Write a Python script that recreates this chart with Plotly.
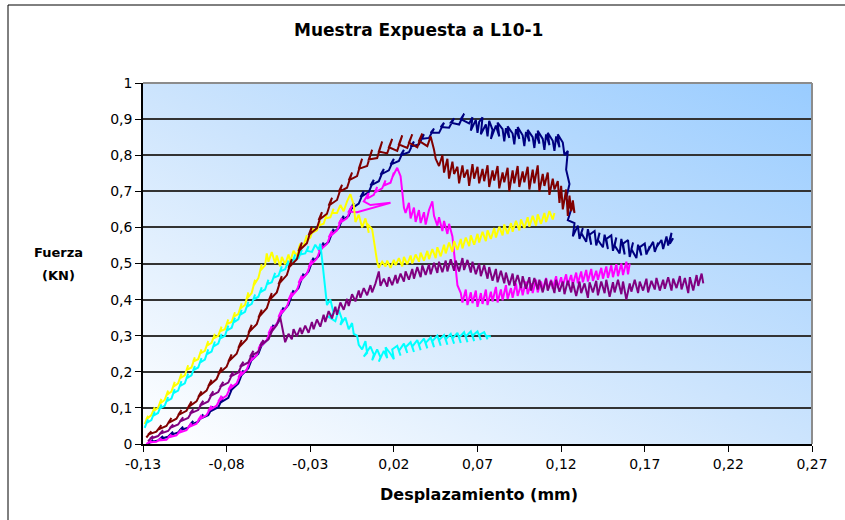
import base64
import plotly.graph_objects as go

# ---------------- data ----------------
X_TICKS = [-0.13, -0.08, -0.03, 0.02, 0.07, 0.12, 0.17, 0.22, 0.27]
X_TICK_LABELS = ["-0,13", "-0,08", "-0,03", "0,02", "0,07", "0,12", "0,17", "0,22", "0,27"]
Y_TICKS = [0, 0.1, 0.2, 0.3, 0.4, 0.5, 0.6, 0.7, 0.8, 0.9, 1.0]
Y_TICK_LABELS = ["0", "0,1", "0,2", "0,3", "0,4", "0,5", "0,6", "0,7", "0,8", "0,9", "1"]

# (desplazamiento mm, fuerza KN) pairs
NAVY_XY = [
    (-0.127, 0.000), (-0.124, 0.012), (-0.126, 0.004), (-0.121, 0.010), (-0.118, 0.022), (-0.120, 0.014),
    (-0.115, 0.020), (-0.112, 0.034), (-0.114, 0.024), (-0.109, 0.032), (-0.106, 0.048), (-0.108, 0.038),
    (-0.103, 0.045), (-0.100, 0.064), (-0.102, 0.052), (-0.097, 0.062), (-0.094, 0.082), (-0.096, 0.070),
    (-0.091, 0.080), (-0.088, 0.104), (-0.090, 0.090), (-0.085, 0.102), (-0.082, 0.130), (-0.084, 0.114),
    (-0.079, 0.128), (-0.076, 0.162), (-0.078, 0.146), (-0.073, 0.168), (-0.070, 0.204), (-0.072, 0.186),
    (-0.067, 0.210), (-0.064, 0.246), (-0.066, 0.228), (-0.061, 0.250), (-0.058, 0.286), (-0.060, 0.268),
    (-0.055, 0.292), (-0.052, 0.330), (-0.054, 0.312), (-0.049, 0.338), (-0.046, 0.378), (-0.048, 0.358),
    (-0.043, 0.386), (-0.040, 0.426), (-0.042, 0.406), (-0.037, 0.432), (-0.034, 0.472), (-0.036, 0.452),
    (-0.031, 0.478), (-0.028, 0.516), (-0.030, 0.498), (-0.025, 0.520), (-0.022, 0.558), (-0.024, 0.540),
    (-0.019, 0.560), (-0.016, 0.596), (-0.018, 0.578), (-0.013, 0.598), (-0.010, 0.632), (-0.012, 0.616),
    (-0.007, 0.632), (-0.004, 0.668), (-0.006, 0.650), (-0.001, 0.666), (0.002, 0.700), (0.000, 0.684),
    (0.005, 0.698), (0.008, 0.732), (0.006, 0.716), (0.011, 0.728), (0.014, 0.762), (0.012, 0.746),
    (0.017, 0.758), (0.020, 0.790), (0.018, 0.774), (0.023, 0.784), (0.026, 0.815), (0.024, 0.800),
    (0.029, 0.808), (0.032, 0.838), (0.030, 0.824), (0.035, 0.830), (0.038, 0.858), (0.036, 0.845),
    (0.041, 0.848), (0.044, 0.874), (0.042, 0.862), (0.047, 0.862), (0.050, 0.890), (0.048, 0.878),
    (0.053, 0.876), (0.056, 0.902), (0.054, 0.890), (0.059, 0.885), (0.062, 0.915), (0.060, 0.900),
    (0.065, 0.888), (0.067, 0.905), (0.066, 0.868), (0.069, 0.898), (0.070, 0.862), (0.071, 0.892),
    (0.073, 0.905), (0.072, 0.858), (0.075, 0.885), (0.076, 0.852), (0.077, 0.895), (0.079, 0.870),
    (0.078, 0.845), (0.081, 0.882), (0.083, 0.852), (0.082, 0.890), (0.085, 0.872), (0.086, 0.838),
    (0.087, 0.875), (0.089, 0.848), (0.088, 0.880), (0.091, 0.860), (0.092, 0.830), (0.093, 0.872),
    (0.095, 0.845), (0.094, 0.878), (0.097, 0.855), (0.098, 0.825), (0.099, 0.865), (0.101, 0.838),
    (0.100, 0.870), (0.103, 0.850), (0.104, 0.820), (0.105, 0.860), (0.107, 0.832), (0.106, 0.868),
    (0.109, 0.845), (0.110, 0.815), (0.111, 0.858), (0.113, 0.828), (0.112, 0.862), (0.115, 0.840),
    (0.116, 0.812), (0.117, 0.852), (0.119, 0.822), (0.118, 0.858), (0.121, 0.835), (0.122, 0.800),
    (0.124, 0.812), (0.123, 0.760), (0.125, 0.720), (0.123, 0.680), (0.126, 0.650), (0.124, 0.620),
    (0.128, 0.612), (0.127, 0.575), (0.130, 0.605), (0.131, 0.568), (0.133, 0.598), (0.132, 0.585),
    (0.135, 0.560), (0.136, 0.595), (0.138, 0.552), (0.137, 0.580), (0.140, 0.590), (0.141, 0.550),
    (0.143, 0.585), (0.142, 0.565), (0.145, 0.545), (0.146, 0.580), (0.148, 0.540), (0.147, 0.568),
    (0.150, 0.578), (0.151, 0.535), (0.153, 0.572), (0.152, 0.550), (0.155, 0.528), (0.156, 0.568),
    (0.158, 0.525), (0.157, 0.555), (0.160, 0.565), (0.161, 0.518), (0.163, 0.558), (0.162, 0.540),
    (0.165, 0.515), (0.166, 0.552), (0.168, 0.522), (0.167, 0.545), (0.170, 0.555), (0.171, 0.525),
    (0.173, 0.548), (0.172, 0.535), (0.175, 0.560), (0.176, 0.532), (0.178, 0.558), (0.177, 0.545),
    (0.180, 0.565), (0.181, 0.540), (0.183, 0.575), (0.184, 0.550), (0.186, 0.585), (0.185, 0.555),
    (0.187, 0.570),
]

MAGENTA_XY = [
    (-0.128, 0.000), (-0.125, 0.010), (-0.127, 0.004), (-0.122, 0.006), (-0.119, 0.016), (-0.121, 0.010),
    (-0.116, 0.012), (-0.113, 0.026), (-0.115, 0.018), (-0.110, 0.024), (-0.107, 0.040), (-0.109, 0.030),
    (-0.104, 0.038), (-0.101, 0.058), (-0.103, 0.046), (-0.098, 0.056), (-0.095, 0.080), (-0.097, 0.066),
    (-0.092, 0.080), (-0.089, 0.106), (-0.091, 0.092), (-0.086, 0.106), (-0.083, 0.134), (-0.085, 0.118),
    (-0.080, 0.134), (-0.077, 0.166), (-0.079, 0.150), (-0.074, 0.168), (-0.071, 0.202), (-0.073, 0.184),
    (-0.068, 0.206), (-0.065, 0.242), (-0.067, 0.224), (-0.062, 0.246), (-0.059, 0.282), (-0.061, 0.264),
    (-0.056, 0.288), (-0.053, 0.326), (-0.055, 0.306), (-0.050, 0.332), (-0.047, 0.372), (-0.049, 0.352),
    (-0.044, 0.380), (-0.041, 0.420), (-0.043, 0.400), (-0.038, 0.426), (-0.035, 0.466), (-0.037, 0.446),
    (-0.032, 0.472), (-0.029, 0.510), (-0.031, 0.490), (-0.026, 0.514), (-0.023, 0.552), (-0.025, 0.534),
    (-0.020, 0.554), (-0.017, 0.590), (-0.019, 0.572), (-0.014, 0.592), (-0.011, 0.626), (-0.013, 0.610),
    (-0.008, 0.626), (-0.005, 0.660), (-0.007, 0.644), (-0.002, 0.642), (0.008, 0.655), (0.018, 0.668),
    (0.006, 0.662), (0.002, 0.672), (0.005, 0.695), (0.004, 0.680), (0.008, 0.690), (0.010, 0.712),
    (0.009, 0.698), (0.013, 0.708), (0.015, 0.730), (0.014, 0.716), (0.018, 0.724), (0.020, 0.752),
    (0.019, 0.738), (0.022, 0.765), (0.024, 0.742), (0.025, 0.700), (0.026, 0.655), (0.027, 0.640),
    (0.029, 0.668), (0.030, 0.625), (0.032, 0.655), (0.033, 0.615), (0.035, 0.648), (0.036, 0.612),
    (0.038, 0.642), (0.039, 0.608), (0.041, 0.648), (0.043, 0.672), (0.044, 0.632), (0.046, 0.605),
    (0.047, 0.628), (0.049, 0.590), (0.050, 0.618), (0.052, 0.582), (0.053, 0.610), (0.055, 0.575),
    (0.056, 0.530), (0.057, 0.480), (0.058, 0.440), (0.060, 0.418), (0.061, 0.392), (0.063, 0.428),
    (0.064, 0.385), (0.066, 0.420), (0.067, 0.390), (0.069, 0.425), (0.070, 0.380), (0.072, 0.418),
    (0.073, 0.388), (0.075, 0.428), (0.076, 0.385), (0.078, 0.422), (0.079, 0.395), (0.081, 0.435),
    (0.082, 0.392), (0.084, 0.428), (0.085, 0.398), (0.087, 0.440), (0.088, 0.402), (0.090, 0.432),
    (0.091, 0.405), (0.093, 0.445), (0.094, 0.410), (0.096, 0.440), (0.097, 0.412), (0.099, 0.450),
    (0.100, 0.415), (0.102, 0.445), (0.103, 0.418), (0.105, 0.455), (0.106, 0.420), (0.108, 0.450),
    (0.109, 0.425), (0.111, 0.460), (0.112, 0.428), (0.114, 0.455), (0.115, 0.430), (0.117, 0.465),
    (0.118, 0.432), (0.120, 0.462), (0.121, 0.438), (0.123, 0.470), (0.124, 0.440), (0.126, 0.468),
    (0.127, 0.442), (0.129, 0.475), (0.130, 0.445), (0.132, 0.478), (0.133, 0.448), (0.135, 0.482),
    (0.136, 0.450), (0.138, 0.485), (0.139, 0.452), (0.141, 0.480), (0.142, 0.455), (0.144, 0.488),
    (0.145, 0.458), (0.147, 0.492), (0.148, 0.460), (0.150, 0.495), (0.151, 0.462), (0.153, 0.498),
    (0.154, 0.465), (0.156, 0.500), (0.157, 0.468), (0.159, 0.505), (0.160, 0.470), (0.161, 0.500),
]

YELLOW_XY = [
    (-0.129, 0.055), (-0.127, 0.078), (-0.128, 0.068), (-0.125, 0.080), (-0.123, 0.102), (-0.124, 0.090),
    (-0.121, 0.100), (-0.119, 0.125), (-0.120, 0.112), (-0.117, 0.122), (-0.115, 0.148), (-0.116, 0.135),
    (-0.113, 0.145), (-0.111, 0.172), (-0.112, 0.158), (-0.109, 0.168), (-0.107, 0.195), (-0.108, 0.182),
    (-0.105, 0.190), (-0.103, 0.218), (-0.104, 0.205), (-0.101, 0.212), (-0.099, 0.240), (-0.100, 0.228),
    (-0.097, 0.235), (-0.095, 0.262), (-0.096, 0.250), (-0.093, 0.258), (-0.091, 0.285), (-0.092, 0.272),
    (-0.089, 0.280), (-0.087, 0.305), (-0.088, 0.292), (-0.085, 0.300), (-0.083, 0.325), (-0.084, 0.312),
    (-0.081, 0.318), (-0.079, 0.345), (-0.080, 0.332), (-0.077, 0.338), (-0.075, 0.365), (-0.076, 0.352),
    (-0.073, 0.360), (-0.071, 0.390), (-0.072, 0.375), (-0.069, 0.385), (-0.067, 0.420), (-0.068, 0.402),
    (-0.065, 0.418), (-0.063, 0.455), (-0.064, 0.438), (-0.061, 0.460), (-0.059, 0.498), (-0.060, 0.480),
    (-0.057, 0.495), (-0.056, 0.528), (-0.055, 0.505), (-0.053, 0.532), (-0.051, 0.500), (-0.050, 0.522),
    (-0.048, 0.492), (-0.047, 0.518), (-0.045, 0.498), (-0.043, 0.525), (-0.042, 0.505), (-0.040, 0.535),
    (-0.038, 0.520), (-0.036, 0.555), (-0.037, 0.540), (-0.034, 0.550), (-0.032, 0.578), (-0.033, 0.562),
    (-0.030, 0.572), (-0.028, 0.598), (-0.029, 0.585), (-0.026, 0.592), (-0.024, 0.618), (-0.025, 0.605),
    (-0.022, 0.610), (-0.020, 0.638), (-0.021, 0.625), (-0.018, 0.628), (-0.016, 0.652), (-0.017, 0.640),
    (-0.014, 0.640), (-0.012, 0.662), (-0.010, 0.645), (-0.008, 0.672), (-0.006, 0.692), (-0.004, 0.662),
    (-0.003, 0.615), (-0.001, 0.635), (0.001, 0.600), (0.003, 0.625), (0.005, 0.585), (0.004, 0.610),
    (0.007, 0.595), (0.008, 0.560), (0.009, 0.530), (0.010, 0.505), (0.011, 0.488), (0.013, 0.505),
    (0.015, 0.492), (0.016, 0.508), (0.018, 0.488), (0.020, 0.510), (0.021, 0.495), (0.023, 0.515),
    (0.025, 0.492), (0.026, 0.518), (0.028, 0.498), (0.030, 0.522), (0.031, 0.500), (0.033, 0.525),
    (0.035, 0.505), (0.036, 0.530), (0.038, 0.508), (0.040, 0.535), (0.041, 0.512), (0.043, 0.540),
    (0.045, 0.515), (0.046, 0.545), (0.048, 0.520), (0.050, 0.552), (0.051, 0.528), (0.053, 0.558),
    (0.055, 0.532), (0.056, 0.562), (0.058, 0.538), (0.060, 0.568), (0.061, 0.542), (0.063, 0.572),
    (0.065, 0.548), (0.066, 0.578), (0.068, 0.552), (0.070, 0.582), (0.071, 0.558), (0.073, 0.588),
    (0.075, 0.562), (0.076, 0.592), (0.078, 0.568), (0.080, 0.598), (0.081, 0.572), (0.083, 0.602),
    (0.085, 0.578), (0.086, 0.608), (0.088, 0.582), (0.090, 0.612), (0.091, 0.588), (0.093, 0.618),
    (0.095, 0.592), (0.096, 0.622), (0.098, 0.598), (0.100, 0.628), (0.101, 0.602), (0.103, 0.632),
    (0.105, 0.605), (0.106, 0.636), (0.108, 0.610), (0.110, 0.640), (0.111, 0.615), (0.113, 0.645),
    (0.115, 0.622), (0.116, 0.640),
]

CYAN_XY = [
    (-0.129, 0.045), (-0.127, 0.068), (-0.128, 0.058), (-0.125, 0.066), (-0.123, 0.090), (-0.124, 0.078),
    (-0.121, 0.086), (-0.119, 0.110), (-0.120, 0.098), (-0.117, 0.106), (-0.115, 0.130), (-0.116, 0.118),
    (-0.113, 0.126), (-0.111, 0.152), (-0.112, 0.140), (-0.109, 0.148), (-0.107, 0.174), (-0.108, 0.160),
    (-0.105, 0.168), (-0.103, 0.195), (-0.104, 0.182), (-0.101, 0.190), (-0.099, 0.216), (-0.100, 0.204),
    (-0.097, 0.212), (-0.095, 0.238), (-0.096, 0.225), (-0.093, 0.234), (-0.091, 0.262), (-0.092, 0.248),
    (-0.089, 0.256), (-0.087, 0.284), (-0.088, 0.270), (-0.085, 0.278), (-0.083, 0.305), (-0.084, 0.292),
    (-0.081, 0.300), (-0.079, 0.328), (-0.080, 0.314), (-0.077, 0.322), (-0.075, 0.350), (-0.076, 0.336),
    (-0.073, 0.345), (-0.071, 0.372), (-0.072, 0.358), (-0.069, 0.366), (-0.067, 0.394), (-0.068, 0.380),
    (-0.065, 0.388), (-0.063, 0.414), (-0.064, 0.400), (-0.061, 0.408), (-0.059, 0.434), (-0.060, 0.420),
    (-0.057, 0.428), (-0.055, 0.455), (-0.056, 0.442), (-0.053, 0.448), (-0.051, 0.474), (-0.052, 0.460),
    (-0.049, 0.466), (-0.047, 0.492), (-0.048, 0.478), (-0.045, 0.484), (-0.043, 0.508), (-0.044, 0.495),
    (-0.041, 0.500), (-0.039, 0.525), (-0.040, 0.512), (-0.037, 0.515), (-0.035, 0.538), (-0.036, 0.525),
    (-0.033, 0.528), (-0.031, 0.548), (-0.032, 0.535), (-0.029, 0.532), (-0.027, 0.552), (-0.025, 0.538),
    (-0.024, 0.555), (-0.023, 0.515), (-0.022, 0.470), (-0.021, 0.420), (-0.020, 0.385), (-0.018, 0.400),
    (-0.016, 0.362), (-0.019, 0.352), (-0.015, 0.340), (-0.013, 0.372), (-0.011, 0.345), (-0.012, 0.330),
    (-0.009, 0.350), (-0.007, 0.318), (-0.005, 0.335), (-0.004, 0.305), (-0.002, 0.300), (-0.001, 0.275),
    (0.001, 0.262), (0.003, 0.285), (0.004, 0.252), (0.002, 0.242), (0.006, 0.270), (0.008, 0.248),
    (0.007, 0.232), (0.010, 0.262), (0.012, 0.240), (0.011, 0.228), (0.014, 0.258), (0.016, 0.238),
    (0.015, 0.268), (0.018, 0.250), (0.020, 0.235), (0.019, 0.262), (0.022, 0.272), (0.024, 0.245),
    (0.023, 0.258), (0.026, 0.278), (0.028, 0.252), (0.027, 0.268), (0.030, 0.282), (0.032, 0.255),
    (0.031, 0.270), (0.034, 0.288), (0.036, 0.260), (0.035, 0.275), (0.038, 0.292), (0.040, 0.265),
    (0.039, 0.280), (0.042, 0.295), (0.044, 0.268), (0.043, 0.285), (0.046, 0.300), (0.048, 0.272),
    (0.047, 0.288), (0.050, 0.302), (0.052, 0.275), (0.051, 0.290), (0.054, 0.305), (0.056, 0.278),
    (0.055, 0.292), (0.058, 0.308), (0.060, 0.280), (0.059, 0.295), (0.062, 0.310), (0.064, 0.282),
    (0.063, 0.298), (0.066, 0.312), (0.068, 0.285), (0.067, 0.300), (0.070, 0.312), (0.072, 0.288),
    (0.071, 0.302), (0.074, 0.310), (0.076, 0.290), (0.075, 0.300), (0.078, 0.298),
]

PURPLE_XY = [
    (-0.127, 0.008), (-0.124, 0.022), (-0.126, 0.014), (-0.121, 0.022), (-0.118, 0.038), (-0.120, 0.028),
    (-0.115, 0.036), (-0.112, 0.054), (-0.114, 0.044), (-0.109, 0.054), (-0.106, 0.074), (-0.108, 0.062),
    (-0.103, 0.072), (-0.100, 0.096), (-0.102, 0.084), (-0.097, 0.094), (-0.094, 0.120), (-0.096, 0.106),
    (-0.091, 0.118), (-0.088, 0.146), (-0.090, 0.132), (-0.085, 0.144), (-0.082, 0.172), (-0.084, 0.158),
    (-0.079, 0.170), (-0.076, 0.200), (-0.078, 0.186), (-0.073, 0.198), (-0.070, 0.228), (-0.072, 0.214),
    (-0.067, 0.226), (-0.064, 0.258), (-0.066, 0.242), (-0.061, 0.256), (-0.058, 0.288), (-0.060, 0.272),
    (-0.055, 0.290), (-0.052, 0.322), (-0.054, 0.306), (-0.050, 0.330), (-0.048, 0.352), (-0.047, 0.325),
    (-0.046, 0.300), (-0.045, 0.282), (-0.043, 0.305), (-0.041, 0.290), (-0.040, 0.318), (-0.038, 0.298),
    (-0.036, 0.322), (-0.035, 0.305), (-0.033, 0.328), (-0.031, 0.308), (-0.029, 0.338), (-0.028, 0.318),
    (-0.026, 0.345), (-0.024, 0.325), (-0.022, 0.358), (-0.021, 0.338), (-0.019, 0.368), (-0.017, 0.348),
    (-0.015, 0.380), (-0.014, 0.358), (-0.012, 0.392), (-0.010, 0.372), (-0.008, 0.402), (-0.007, 0.382),
    (-0.005, 0.415), (-0.003, 0.395), (-0.001, 0.425), (0.000, 0.405), (0.002, 0.432), (0.004, 0.412),
    (0.006, 0.440), (0.007, 0.420), (0.009, 0.445), (0.011, 0.478), (0.012, 0.438), (0.014, 0.458),
    (0.016, 0.436), (0.017, 0.462), (0.019, 0.440), (0.021, 0.468), (0.022, 0.445), (0.024, 0.472),
    (0.026, 0.450), (0.027, 0.478), (0.029, 0.455), (0.031, 0.485), (0.032, 0.458), (0.034, 0.490),
    (0.036, 0.462), (0.037, 0.495), (0.039, 0.468), (0.041, 0.498), (0.042, 0.470), (0.044, 0.502),
    (0.046, 0.474), (0.047, 0.505), (0.049, 0.476), (0.051, 0.508), (0.052, 0.478), (0.054, 0.512),
    (0.056, 0.480), (0.057, 0.508), (0.059, 0.478), (0.061, 0.515), (0.062, 0.482), (0.064, 0.510),
    (0.066, 0.475), (0.067, 0.505), (0.069, 0.470), (0.071, 0.500), (0.072, 0.465), (0.074, 0.495),
    (0.076, 0.458), (0.077, 0.490), (0.079, 0.452), (0.081, 0.485), (0.082, 0.448), (0.084, 0.480),
    (0.086, 0.445), (0.087, 0.475), (0.089, 0.440), (0.091, 0.472), (0.092, 0.438), (0.094, 0.468),
    (0.096, 0.432), (0.097, 0.465), (0.099, 0.430), (0.101, 0.462), (0.102, 0.425), (0.104, 0.460),
    (0.106, 0.428), (0.107, 0.455), (0.109, 0.420), (0.111, 0.458), (0.112, 0.425), (0.114, 0.452),
    (0.116, 0.418), (0.117, 0.455), (0.119, 0.422), (0.121, 0.450), (0.122, 0.415), (0.124, 0.452),
    (0.126, 0.420), (0.127, 0.448), (0.129, 0.410), (0.131, 0.450), (0.132, 0.418), (0.134, 0.445),
    (0.136, 0.405), (0.137, 0.448), (0.139, 0.420), (0.141, 0.452), (0.142, 0.412), (0.144, 0.450),
    (0.146, 0.418), (0.147, 0.455), (0.149, 0.408), (0.151, 0.448), (0.152, 0.420), (0.154, 0.455),
    (0.156, 0.415), (0.157, 0.450), (0.159, 0.400), (0.161, 0.445), (0.162, 0.422), (0.164, 0.455),
    (0.166, 0.418), (0.167, 0.450), (0.169, 0.425), (0.171, 0.458), (0.172, 0.420), (0.174, 0.452),
    (0.176, 0.428), (0.177, 0.460), (0.179, 0.425), (0.181, 0.455), (0.182, 0.430), (0.184, 0.462),
    (0.186, 0.425), (0.187, 0.458), (0.189, 0.432), (0.191, 0.465), (0.192, 0.428), (0.194, 0.460),
    (0.196, 0.418), (0.197, 0.462), (0.199, 0.425), (0.201, 0.468), (0.202, 0.438), (0.204, 0.472),
    (0.205, 0.445),
]

MAROON_XY = [
    (-0.128, 0.018), (-0.125, 0.035), (-0.127, 0.026), (-0.122, 0.034), (-0.119, 0.052), (-0.121, 0.040),
    (-0.116, 0.050), (-0.113, 0.072), (-0.115, 0.058), (-0.110, 0.070), (-0.107, 0.094), (-0.109, 0.080),
    (-0.104, 0.092), (-0.101, 0.118), (-0.103, 0.102), (-0.098, 0.118), (-0.095, 0.146), (-0.097, 0.130),
    (-0.092, 0.148), (-0.089, 0.178), (-0.091, 0.160), (-0.086, 0.180), (-0.083, 0.212), (-0.085, 0.194),
    (-0.080, 0.214), (-0.077, 0.248), (-0.079, 0.228), (-0.074, 0.250), (-0.071, 0.288), (-0.073, 0.266),
    (-0.068, 0.290), (-0.065, 0.330), (-0.067, 0.308), (-0.062, 0.332), (-0.059, 0.372), (-0.061, 0.350),
    (-0.056, 0.376), (-0.053, 0.418), (-0.055, 0.396), (-0.050, 0.420), (-0.047, 0.465), (-0.049, 0.442),
    (-0.044, 0.468), (-0.041, 0.512), (-0.043, 0.488), (-0.038, 0.512), (-0.035, 0.558), (-0.037, 0.534),
    (-0.032, 0.556), (-0.029, 0.602), (-0.031, 0.578), (-0.026, 0.598), (-0.023, 0.642), (-0.025, 0.620),
    (-0.020, 0.638), (-0.017, 0.682), (-0.019, 0.660), (-0.014, 0.676), (-0.011, 0.718), (-0.013, 0.698),
    (-0.008, 0.710), (-0.005, 0.752), (-0.007, 0.730), (-0.002, 0.742), (0.001, 0.790), (-0.001, 0.762),
    (0.004, 0.770), (0.007, 0.815), (0.005, 0.788), (0.010, 0.792), (0.013, 0.838), (0.011, 0.810),
    (0.016, 0.805), (0.019, 0.845), (0.017, 0.822), (0.022, 0.812), (0.025, 0.855), (0.023, 0.830),
    (0.028, 0.820), (0.031, 0.858), (0.029, 0.835), (0.034, 0.822), (0.037, 0.860), (0.035, 0.840),
    (0.040, 0.825), (0.042, 0.852), (0.044, 0.815), (0.045, 0.790), (0.047, 0.770), (0.049, 0.800),
    (0.050, 0.752), (0.052, 0.790), (0.053, 0.735), (0.055, 0.782), (0.056, 0.748), (0.058, 0.768),
    (0.059, 0.722), (0.061, 0.772), (0.062, 0.738), (0.064, 0.760), (0.065, 0.715), (0.067, 0.775),
    (0.068, 0.735), (0.070, 0.768), (0.071, 0.722), (0.073, 0.762), (0.074, 0.728), (0.076, 0.772),
    (0.077, 0.712), (0.079, 0.758), (0.080, 0.730), (0.082, 0.770), (0.083, 0.708), (0.085, 0.752),
    (0.086, 0.725), (0.088, 0.765), (0.089, 0.700), (0.091, 0.758), (0.092, 0.722), (0.094, 0.770),
    (0.095, 0.712), (0.097, 0.755), (0.098, 0.725), (0.100, 0.768), (0.101, 0.705), (0.103, 0.760),
    (0.104, 0.722), (0.106, 0.772), (0.107, 0.700), (0.109, 0.748), (0.110, 0.715), (0.112, 0.752),
    (0.113, 0.690), (0.115, 0.735), (0.116, 0.705), (0.118, 0.728), (0.119, 0.668), (0.120, 0.715),
    (0.121, 0.650), (0.123, 0.705), (0.124, 0.632), (0.125, 0.688), (0.126, 0.645), (0.127, 0.675),
    (0.128, 0.640), (0.127, 0.660),
]

# drawing order follows the workbook's series order (last one on top)
SERIES = [
    ("navy", NAVY_XY, "#000080"),
    ("magenta", MAGENTA_XY, "#FF00FF"),
    ("yellow", YELLOW_XY, "#FFFF00"),
    ("cyan", CYAN_XY, "#00FFFF"),
    ("purple", PURPLE_XY, "#800080"),
    ("maroon", MAROON_XY, "#800000"),
]

# ---------------- figure ----------------
W, H = 845, 520
L, R, T, B = 143, 33, 83, 76
PW, PH = W - L - R, H - T - B


def px_x(p):
    return (p - L) / PW


def px_y(p):
    return (H - B - p) / PH


fig = go.Figure()
for name, pts, col in SERIES:
    fig.add_trace(go.Scatter(x=[p[0] for p in pts], y=[p[1] for p in pts], mode="lines", name=name,
                             line=dict(color=col, width=2), hoverinfo="skip",
                             showlegend=False))

svg = ('<svg xmlns="http://www.w3.org/2000/svg" width="669" height="361" preserveAspectRatio="none">'
       '<defs><linearGradient id="g" x1="0" y1="1" x2="1" y2="0">'
       '<stop offset="0" stop-color="#FFFFFF"/><stop offset="0.5" stop-color="#CCE4FD"/>'
       '<stop offset="1" stop-color="#99CCFF"/></linearGradient></defs>'
       '<rect width="669" height="361" fill="url(#g)"/></svg>')
src = "data:image/svg+xml;base64," + base64.b64encode(svg.encode()).decode()

font_fam = "DejaVu Sans"

fig.update_layout(
    width=W, height=H,
    margin=dict(l=L, r=R, t=T, b=B, pad=0),
    paper_bgcolor="white",
    plot_bgcolor="rgba(0,0,0,0)",
    separators=",.",
    font=dict(family=font_fam, color="black", size=14),
    images=[dict(source=src, xref="paper", yref="paper", x=0, y=1, sizex=1, sizey=1,
                 sizing="stretch", layer="below", xanchor="left", yanchor="top")],
    xaxis=dict(range=[-0.13, 0.27], tickvals=X_TICKS, ticktext=X_TICK_LABELS,
               showgrid=False, zeroline=False, showline=True, linecolor="black", linewidth=1.5,
               ticks="outside", ticklen=6, tickcolor="black", tickwidth=1.2,
               tickfont=dict(family=font_fam, size=14, color="black")),
    yaxis=dict(range=[0, 1.0], tickvals=Y_TICKS, ticktext=Y_TICK_LABELS,
               showgrid=True, gridcolor="#333333", gridwidth=1.5,
               zeroline=False, showline=True, linecolor="black", linewidth=1.5,
               ticks="outside", ticklen=6, tickcolor="black", tickwidth=1.2,
               tickfont=dict(family=font_fam, size=14, color="black")),
    shapes=[
        dict(type="line", xref="paper", yref="paper", x0=0, x1=1, y0=1, y1=1,
             line=dict(color="#8c8c8c", width=2), layer="above"),
        dict(type="line", xref="paper", yref="paper", x0=1, x1=1, y0=0, y1=1,
             line=dict(color="#8c8c8c", width=2), layer="above"),
        dict(type="rect", xref="paper", yref="paper",
             x0=px_x(8), x1=px_x(870), y0=px_y(540), y1=px_y(5),
             line=dict(color="black", width=1), fillcolor="rgba(0,0,0,0)", layer="below"),
    ],
    annotations=[
        dict(text="<b>Muestra Expuesta a L10-1</b>", xref="paper", yref="paper",
             x=px_x(418), y=px_y(30), showarrow=False, xanchor="center", yanchor="middle",
             font=dict(family=font_fam, size=17, color="black")),
        dict(text="<b>Desplazamiento (mm)</b>", xref="paper", yref="paper",
             x=px_x(479), y=px_y(494), showarrow=False, xanchor="center", yanchor="middle",
             font=dict(family=font_fam, size=16, color="black")),
        dict(text="<b>Fuerza</b>", xref="paper", yref="paper",
             x=px_x(58), y=px_y(253), showarrow=False, xanchor="center", yanchor="middle",
             font=dict(family=font_fam, size=13, color="black")),
        dict(text="<b>(KN)</b>", xref="paper", yref="paper",
             x=px_x(58), y=px_y(275), showarrow=False, xanchor="center", yanchor="middle",
             font=dict(family=font_fam, size=13, color="black")),
    ],
)

fig.write_html("out.html", config={"displayModeBar": False},
               post_script="document.body.style.margin='0';document.body.style.overflow='hidden';")
